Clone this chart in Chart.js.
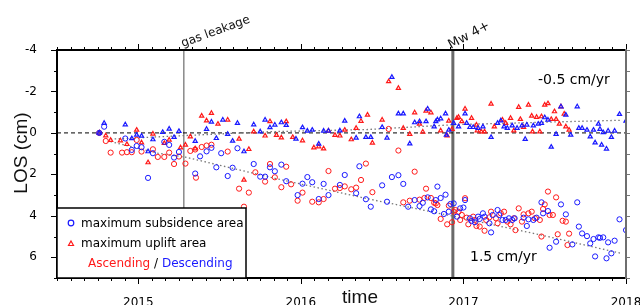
<!DOCTYPE html>
<html lang="en">
<head>
<meta charset="UTF-8">
<title>LOS time series</title>
<script src="https://cdn.jsdelivr.net/npm/chart.js"></script>
<style>
  body { margin: 0; background: #fff; }
  #wrap { width: 640px; height: 305px; }
</style>
</head>
<body>
<div id="wrap"><canvas id="losChart" width="640" height="305"></canvas></div>
<script>
  // [year, LOS (cm)]
  const ascSubsidence = [
    [2014.76,0.0],[2014.80,0.39],[2014.83,0.95],[2014.90,0.95],[2014.93,0.93],[2014.96,0.93],[2014.99,0.34],
    [2015.02,0.9],[2015.09,0.79],[2015.12,1.16],[2015.16,1.16],[2015.19,0.95],[2015.22,1.5],[2015.25,1.14],
    [2015.29,1.48],[2015.32,0.87],[2015.35,0.8],[2015.355,2.16],[2015.39,0.68],[2015.42,0.61],[2015.45,0.57],
    [2015.55,0.9],[2015.62,2.69],[2015.65,3.56],[2015.68,2.88],[2015.72,1.9],[2015.78,2.35],[2015.81,1.5],
    [2015.84,2.14],[2015.88,2.62],[2015.91,1.63],[2015.94,2.48],[2015.98,3.27],[2016.01,2.88],[2016.07,3.32],
    [2016.11,3.35],[2016.14,3.19],[2016.17,1.84],[2016.21,2.69],[2016.24,2.66],[2016.27,2.58],[2016.31,2.72],
    [2016.34,2.64],[2016.37,2.27],[2016.40,1.48],[2016.44,2.86],[2016.54,-0.19],[2016.60,0.85],[2016.63,3.35],
    [2016.67,3.27],[2016.70,1.87],[2016.73,3.22],[2016.76,3.14],[2016.77,2.69],[2016.80,3.14],[2016.82,3.37],
    [2016.83,3.4],[2016.84,3.48],[2016.86,4.15],[2016.90,4.41],[2016.91,3.51],[2016.93,4.31],[2016.94,3.8],
    [2016.95,3.72],[2016.97,3.8],[2016.98,4.2],[2016.99,3.96],[2017.01,3.15],[2017.02,4.09],[2017.03,4.41],
    [2017.06,4.04],[2017.07,4.2],[2017.08,4.49],[2017.10,4.52],[2017.13,4.72],[2017.14,4.2],[2017.16,4.07],
    [2017.17,3.8],[2017.20,4.12],[2017.21,4.36],[2017.23,3.88],[2017.25,3.8],[2017.27,4.28],[2017.29,4.41],
    [2017.31,4.12],[2017.32,4.69],[2017.34,3.64],[2017.36,4.28],[2017.37,3.93],[2017.40,3.88],[2017.42,3.8],
    [2017.44,4.12],[2017.47,4.2],[2017.48,5.0],[2017.49,3.67],[2017.50,3.45],[2017.52,2.83],[2017.53,3.96],
    [2017.55,3.96],[2017.57,3.11],[2017.58,4.89],[2017.61,4.24],[2017.63,4.28],[2017.64,5.41],[2017.65,4.86]
  ];
  const descSubsidence = [
    [2014.76,0.0],[2014.79,-0.3],[2014.92,0.27],[2014.96,0.82],[2014.99,0.63],[2015.02,0.69],[2015.06,2.17],
    [2015.09,0.98],[2015.16,0.43],[2015.19,0.58],[2015.22,1.19],[2015.25,0.92],[2015.35,1.96],[2015.38,1.13],
    [2015.42,0.89],[2015.45,0.72],[2015.48,1.66],[2015.51,0.98],[2015.55,2.08],[2015.58,1.68],[2015.61,0.74],
    [2015.71,1.5],[2015.75,2.11],[2015.78,2.11],[2015.81,1.66],[2015.84,1.85],[2015.88,1.53],[2015.91,2.33],
    [2015.98,3.0],[2016.01,2.45],[2016.04,2.13],[2016.07,2.38],[2016.11,3.19],[2016.14,2.46],[2016.17,3.0],
    [2016.24,2.51],[2016.27,2.03],[2016.34,2.91],[2016.36,1.61],[2016.40,3.2],[2016.43,3.56],[2016.50,2.53],
    [2016.53,3.32],[2016.56,2.13],[2016.60,2.04],[2016.63,2.46],[2016.66,3.56],[2016.70,3.24],[2016.73,3.53],
    [2016.75,3.37],[2016.78,3.11],[2016.80,3.69],[2016.82,3.78],[2016.83,3.24],[2016.84,2.59],[2016.86,3.14],
    [2016.88,3.91],[2016.89,2.98],[2016.91,3.8],[2016.92,3.43],[2016.94,3.4],[2016.96,4.04],[2016.98,3.64],
    [2017.00,3.6],[2017.01,3.24],[2017.04,4.12],[2017.05,4.25],[2017.07,4.31],[2017.09,4.04],[2017.10,4.15],
    [2017.12,3.88],[2017.13,4.04],[2017.16,4.36],[2017.17,4.8],[2017.18,3.96],[2017.21,3.72],[2017.22,3.96],
    [2017.24,4.2],[2017.26,4.2],[2017.28,4.12],[2017.30,4.2],[2017.315,4.12],[2017.37,4.09],[2017.39,4.49],
    [2017.40,4.17],[2017.43,4.2],[2017.45,4.09],[2017.48,3.35],[2017.49,3.88],[2017.52,3.77],[2017.53,5.54],
    [2017.57,5.25],[2017.60,3.45],[2017.63,3.93],[2017.67,5.38],[2017.70,3.35],[2017.71,4.52],[2017.73,4.85],
    [2017.76,4.98],[2017.78,5.33],[2017.80,5.12],[2017.81,5.96],[2017.83,5.04],[2017.84,5.06],[2017.86,5.04],
    [2017.88,6.05],[2017.89,5.28],[2017.91,5.81],[2017.93,5.2],[2017.96,4.17],[2018.0,4.69]
  ];
  const ascUplift = [
    [2014.76,0.0],[2014.80,0.13],[2014.83,0.35],[2014.89,0.37],[2014.93,0.55],[2014.99,-0.14],[2015.02,0.47],
    [2015.06,1.43],[2015.09,0.05],[2015.16,0.5],[2015.19,0.34],[2015.26,0.71],[2015.29,0.58],[2015.32,0.18],
    [2015.35,0.76],[2015.39,-0.82],[2015.42,-0.59],[2015.45,-0.95],[2015.49,-0.43],[2015.55,-0.63],[2015.62,0.29],
    [2015.65,2.27],[2015.68,0.79],[2015.71,-0.06],[2015.78,0.14],[2015.81,-0.55],[2015.85,0.11],[2015.88,0.23],
    [2015.91,-0.55],[2015.95,0.21],[2016.01,0.37],[2016.08,0.71],[2016.11,0.66],[2016.14,0.76],[2016.17,-0.1],
    [2016.21,0.11],[2016.24,0.14],[2016.27,-0.14],[2016.31,0.32],[2016.34,-0.23],[2016.37,-0.57],[2016.41,-0.87],
    [2016.44,0.48],[2016.50,-0.63],[2016.54,-2.48],[2016.60,-2.16],[2016.63,-0.23],[2016.67,0.06],[2016.70,-0.98],
    [2016.73,-0.43],[2016.75,-0.05],[2016.77,-1.06],[2016.80,-0.98],[2016.86,-0.11],[2016.90,0.13],[2016.91,-0.58],
    [2016.93,-0.18],[2016.96,-0.71],[2016.97,-0.76],[2016.99,-0.55],[2017.01,-1.16],[2017.05,-0.71],[2017.08,-0.39],
    [2017.085,-0.11],[2017.11,-0.06],[2017.13,-0.06],[2017.17,-1.4],[2017.19,-0.3],[2017.24,-0.63],[2017.26,-0.47],
    [2017.29,-0.71],[2017.31,-0.11],[2017.34,-1.24],[2017.35,-0.66],[2017.37,-0.27],[2017.40,-1.35],[2017.42,-0.82],
    [2017.425,-0.06],[2017.45,-0.76],[2017.47,-0.06],[2017.48,-0.79],[2017.50,-1.35],[2017.52,-1.42],[2017.54,-0.66],
    [2017.56,-1.03],[2017.57,-0.66],[2017.59,-0.43],[2017.60,-1.27],[2017.62,-0.92],[2017.63,-0.3],[2017.65,-0.14]
  ];
  const descUplift = [
    [2014.76,0.0],[2014.79,-0.47],[2014.92,-0.4],[2014.96,0.27],[2014.99,0.1],[2015.02,0.15],[2015.06,0.9],
    [2015.09,0.32],[2015.15,-0.03],[2015.19,-0.19],[2015.22,0.21],[2015.25,-0.08],[2015.35,0.4],[2015.42,-0.18],
    [2015.45,-0.53],[2015.48,0.26],[2015.52,-0.63],[2015.55,0.06],[2015.58,0.39],[2015.61,-0.47],[2015.65,0.9],
    [2015.71,-0.4],[2015.75,-0.06],[2015.78,-0.63],[2015.81,-0.26],[2015.84,-0.39],[2015.88,-0.5],[2015.91,-0.37],
    [2015.97,0.29],[2016.01,-0.26],[2016.04,-0.1],[2016.07,-0.14],[2016.11,0.53],[2016.14,-0.1],[2016.17,-0.1],
    [2016.24,-0.11],[2016.27,-0.58],[2016.34,0.24],[2016.36,-0.79],[2016.40,0.21],[2016.43,0.21],[2016.50,-0.27],
    [2016.53,0.24],[2016.56,-2.69],[2016.60,-0.93],[2016.63,-0.93],[2016.67,0.52],[2016.70,-0.5],[2016.73,-0.55],
    [2016.77,-0.55],[2016.78,-1.16],[2016.82,-0.3],[2016.83,-0.55],[2016.84,-0.64],[2016.86,-0.69],[2016.89,-0.93],
    [2016.895,0.1],[2016.91,-0.14],[2016.94,-0.47],[2016.97,-0.3],[2017.01,-0.93],[2017.02,-0.47],[2017.04,-0.27],
    [2017.06,-0.27],[2017.09,-0.23],[2017.12,-0.3],[2017.17,0.21],[2017.21,-0.47],[2017.23,-0.59],[2017.25,-0.3],
    [2017.27,-0.23],[2017.30,-0.35],[2017.33,-0.23],[2017.36,-0.35],[2017.38,0.3],[2017.39,-0.39],[2017.43,-0.35],
    [2017.46,-0.43],[2017.48,-0.47],[2017.50,-0.74],[2017.52,-0.63],[2017.54,0.68],[2017.57,0.06],[2017.60,-1.27],
    [2017.63,-0.87],[2017.66,0.1],[2017.70,-1.27],[2017.71,-0.23],[2017.73,-0.23],[2017.76,-0.14],[2017.78,0.18],
    [2017.80,-0.14],[2017.81,0.47],[2017.83,-0.43],[2017.84,-0.18],[2017.85,0.58],[2017.86,-0.02],[2017.88,0.77],
    [2017.89,-0.1],[2017.91,0.21],[2017.93,-0.1],[2017.96,-0.9],[2018.0,-0.58]
  ];
  // dotted trends
  const upliftTrend = [[2014.83,0.3],[2015.28,0.13],[2015.81,-0.06],[2016.40,-0.16],[2016.95,-0.4],[2017.47,-0.51],[2017.97,-0.61]];
  const subsidenceTrend = [[2014.83,0.42],[2015.12,0.98],[2015.29,1.17],[2015.84,2.19],[2016.40,3.16],[2016.95,4.04],[2017.48,4.93],[2017.97,5.81]];
  // events
  const gasLeakage = 2015.28;
  const mwEvent = 2016.935;

  const xTicks = [2015, 2016, 2017, 2018];
  const yTicks = [-4, -2, 0, 2, 4, 6];
  const X_MIN = 2014.5, X_MAX = 2018, Y_MIN = -4, Y_MAX = 7;

  const RED = 'rgb(255,25,25)';
  const BLUE = 'rgb(25,25,255)';
  const FONT = 'DejaVu Sans';

  const pts = arr => arr.map(p => ({x: p[0], y: p[1]}));

  const decor = {
    id: 'decor',
    afterDatasetsDraw(chart) {
      const c = chart.ctx, a = chart.chartArea;
      const xs = chart.scales.x, ys = chart.scales.y;
      c.save();
      // tick marks
      c.lineWidth = 1;
      c.strokeStyle = '#000';
      c.beginPath();
      for (let m = 0; m <= 42; m++) {
        const v = X_MIN + m / 12;
        const px = Math.round(xs.getPixelForValue(v)) + 0.5;
        const major = m % 12 === 6;
        const len = major ? 6 : 3;
        c.moveTo(px, a.top); c.lineTo(px, a.top - len);
        c.moveTo(px, a.bottom); c.lineTo(px, a.bottom + len);
      }
      for (let v = Y_MIN; v <= Y_MAX; v++) {
        const py = Math.round(ys.getPixelForValue(v)) + 0.5;
        const len = (v % 2 === 0) ? 6 : 3;
        c.moveTo(a.left, py); c.lineTo(a.left - len, py);
      }
      c.stroke();
      c.strokeStyle = '#777';
      c.beginPath();
      for (let v = Y_MIN; v <= Y_MAX; v++) {
        const py = Math.round(ys.getPixelForValue(v)) + 0.5;
        c.moveTo(a.right, py); c.lineTo(a.right + 4, py);
      }
      c.stroke();
      // frame
      c.lineWidth = 2;
      c.strokeStyle = '#000';
      c.beginPath();
      c.moveTo(a.left, a.bottom); c.lineTo(a.left, a.top); c.lineTo(a.right, a.top);
      c.moveTo(a.left, a.bottom); c.lineTo(a.right, a.bottom);
      c.stroke();
      c.strokeStyle = '#6e6e6e';
      c.beginPath();
      c.moveTo(a.right, a.top - 1); c.lineTo(a.right, a.bottom + 1);
      c.stroke();

      // legend box
      const lx = a.left, ly = 208, lw = 189, lh = a.bottom - 208;
      c.fillStyle = '#fff';
      c.fillRect(lx, ly, lw, lh);
      c.lineWidth = 1.5;
      c.strokeStyle = '#000';
      c.strokeRect(lx, ly, lw, lh);
      c.lineWidth = 1.2;
      c.strokeStyle = BLUE;
      c.beginPath(); c.arc(71, 223, 2.8, 0, Math.PI * 2); c.stroke();
      c.strokeStyle = RED;
      c.beginPath(); c.moveTo(71, 241); c.lineTo(73.5, 245.5); c.lineTo(68.5, 245.5); c.closePath(); c.stroke();
      c.font = '12px "' + FONT + '"';
      c.textBaseline = 'alphabetic';
      c.textAlign = 'left';
      c.fillStyle = '#000';
      c.fillText('maximum subsidence area', 81, 227);
      c.fillText('maximum uplift area', 81, 247);
      let tx = 88;
      c.fillStyle = RED; c.fillText('Ascending', tx, 267); tx += c.measureText('Ascending').width;
      c.fillStyle = '#000'; c.fillText(' / ', tx, 267); tx += c.measureText(' / ').width;
      c.fillStyle = BLUE; c.fillText('Descending', tx, 267);

      // rate labels
      c.fillStyle = '#000';
      c.font = '14px "' + FONT + '"';
      c.fillText('-0.5 cm/yr', 538, 84);
      c.fillText('1.5 cm/yr', 470, 261);

      // event labels
      c.font = '12px "' + FONT + '"';
      c.fillStyle = '#111';
      c.save();
      c.translate(xs.getPixelForValue(gasLeakage) - 1, a.top - 3);
      c.rotate(-20 * Math.PI / 180);
      c.fillText('gas leakage', 0, 0);
      c.restore();
      c.save();
      c.translate(xs.getPixelForValue(mwEvent) - 2, a.top - 1);
      c.rotate(-28 * Math.PI / 180);
      c.font = '13px "' + FONT + '"';
      c.fillText('Mw 4+', 0, 0);
      c.restore();

      // axis titles
      c.font = '19px "Liberation Sans"';
      c.textAlign = 'center';
      c.fillText('time', 360, 303);
      c.save();
      c.translate(27, 153);
      c.rotate(-Math.PI / 2);
      c.fillText('LOS (cm)', 0, 0);
      c.restore();
      c.restore();
    }
  };

  const pointSet = (label, data, color, style, order) => ({
    label, data: pts(data), order,
    showLine: false,
    pointStyle: style,
    pointRadius: style === 'circle' ? 2.6 : 2.4,
    pointBorderWidth: style === 'circle' ? 1 : 1.2,
    borderColor: color,
    backgroundColor: 'rgba(0,0,0,0)'
  });
  const lineSet = (label, data, color, width, dash, order) => ({
    label, data: pts(data), order,
    showLine: true, pointRadius: 0,
    borderColor: color, borderWidth: width, borderDash: dash,
    fill: false, tension: 0
  });

  new Chart(document.getElementById('losChart'), {
    type: 'scatter',
    data: {
      datasets: [
        pointSet('Ascending uplift', ascUplift, RED, 'triangle', 3),
        pointSet('Descending uplift', descUplift, BLUE, 'triangle', 2),
        pointSet('Ascending subsidence', ascSubsidence, RED, 'circle', 4),
        pointSet('Descending subsidence', descSubsidence, BLUE, 'circle', 1),
        lineSet('zero', [[X_MIN, 0], [X_MAX, 0]], '#000', 1, [4, 3], 9),
        lineSet('uplift trend', upliftTrend, '#777', 1.3, [1.5, 2.5], 8),
        lineSet('subsidence trend', subsidenceTrend, '#777', 1.3, [1.5, 2.5], 8),
        lineSet('gas leakage', [[gasLeakage, Y_MIN], [gasLeakage, Y_MAX]], '#8a8a8a', 1.5, [], 10),
        lineSet('Mw 4+', [[mwEvent, Y_MIN], [mwEvent, Y_MAX]], '#6a6a6a', 3, [], 10)
      ]
    },
    options: {
      responsive: false,
      animation: false,
      devicePixelRatio: 1,
      layout: { padding: { top: 50, right: 0, left: 0, bottom: 0 } },
      plugins: { legend: { display: false }, tooltip: { enabled: false } },
      scales: {
        x: {
          type: 'linear', min: X_MIN, max: X_MAX,
          grid: { display: false }, border: { display: false },
          afterBuildTicks: s => { s.ticks = xTicks.map(v => ({ value: v })); },
          afterFit: s => { s.height = 27; s.paddingRight = 14; },
          ticks: { padding: 10, color: '#000', maxRotation: 0, font: { family: FONT, size: 12 }, callback: v => String(v) }
        },
        y: {
          type: 'linear', min: Y_MIN, max: Y_MAX, reverse: true,
          grid: { display: false }, border: { display: false },
          afterBuildTicks: s => { s.ticks = yTicks.map(v => ({ value: v })); },
          afterFit: s => { s.width = 57; },
          ticks: { padding: 12, color: '#000', font: { family: FONT, size: 12 }, callback: v => String(v) }
        }
      }
    },
    plugins: [decor]
  });
</script>
</body>
</html>
